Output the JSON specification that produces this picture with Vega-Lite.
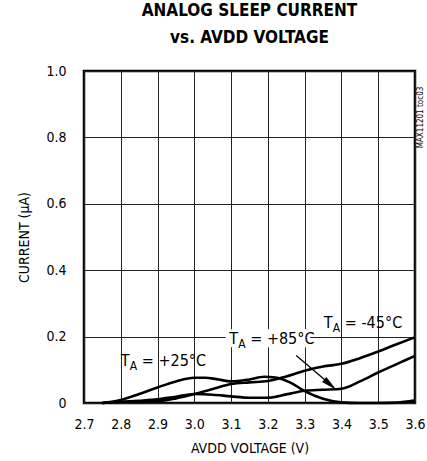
{
  "$schema": "https://vega.github.io/schema/vega-lite/v6.json",
  "width": 331,
  "height": 332,
  "autosize": "none",
  "padding": {"left": 84, "top": 71, "right": 12, "bottom": 58},
  "background": "white",
  "config": {
    "font": "DejaVu Sans Condensed, Roboto, sans-serif",
    "view": {"stroke": "black", "strokeWidth": 2.5},
    "axis": {"gridColor": "#222", "gridWidth": 1, "gridOpacity": 1, "domain": false, "ticks": false, "labelColor": "black", "titleColor": "black", "labelFont": "DejaVu Sans Condensed, Roboto, sans-serif", "titleFont": "DejaVu Sans Condensed, Roboto, sans-serif", "titleFontWeight": "normal", "labelOverlap": false}
  },
  "title": {
    "text": ["ANALOG SLEEP CURRENT", "vs. AVDD VOLTAGE"],
    "font": "DejaVu Sans Condensed, Roboto, sans-serif",
    "fontSize": 17,
    "fontWeight": "bold",
    "lineHeight": 27,
    "anchor": "middle",
    "offset": 17,
    "color": "black"
  },
  "datasets": {
    "curves": [
      {"v": 2.75, "i": 0.0, "s": "+25"},
      {"v": 2.8, "i": 0.009, "s": "+25"},
      {"v": 2.85, "i": 0.027, "s": "+25"},
      {"v": 2.9, "i": 0.047, "s": "+25"},
      {"v": 2.95, "i": 0.065, "s": "+25"},
      {"v": 3.0, "i": 0.076, "s": "+25"},
      {"v": 3.03, "i": 0.076, "s": "+25"},
      {"v": 3.06, "i": 0.072, "s": "+25"},
      {"v": 3.1, "i": 0.065, "s": "+25"},
      {"v": 3.15, "i": 0.071, "s": "+25"},
      {"v": 3.19, "i": 0.079, "s": "+25"},
      {"v": 3.22, "i": 0.077, "s": "+25"},
      {"v": 3.26, "i": 0.062, "s": "+25"},
      {"v": 3.3, "i": 0.036, "s": "+25"},
      {"v": 3.35, "i": 0.013, "s": "+25"},
      {"v": 3.4, "i": 0.002, "s": "+25"},
      {"v": 3.45, "i": 0.0, "s": "+25"},
      {"v": 3.5, "i": 0.0, "s": "+25"},
      {"v": 3.55, "i": 0.001, "s": "+25"},
      {"v": 3.6, "i": 0.008, "s": "+25"},
      {"v": 2.75, "i": 0.0, "s": "+85"},
      {"v": 2.8, "i": 0.004, "s": "+85"},
      {"v": 2.85, "i": 0.007, "s": "+85"},
      {"v": 2.9, "i": 0.011, "s": "+85"},
      {"v": 2.95, "i": 0.019, "s": "+85"},
      {"v": 3.0, "i": 0.027, "s": "+85"},
      {"v": 3.05, "i": 0.025, "s": "+85"},
      {"v": 3.1, "i": 0.02, "s": "+85"},
      {"v": 3.15, "i": 0.016, "s": "+85"},
      {"v": 3.2, "i": 0.016, "s": "+85"},
      {"v": 3.25, "i": 0.026, "s": "+85"},
      {"v": 3.3, "i": 0.037, "s": "+85"},
      {"v": 3.35, "i": 0.04, "s": "+85"},
      {"v": 3.4, "i": 0.043, "s": "+85"},
      {"v": 3.45, "i": 0.065, "s": "+85"},
      {"v": 3.5, "i": 0.092, "s": "+85"},
      {"v": 3.55, "i": 0.117, "s": "+85"},
      {"v": 3.6, "i": 0.142, "s": "+85"},
      {"v": 2.75, "i": 0.0, "s": "-45"},
      {"v": 2.8, "i": 0.003, "s": "-45"},
      {"v": 2.85, "i": 0.003, "s": "-45"},
      {"v": 2.9, "i": 0.005, "s": "-45"},
      {"v": 2.95, "i": 0.014, "s": "-45"},
      {"v": 3.0, "i": 0.027, "s": "-45"},
      {"v": 3.05, "i": 0.042, "s": "-45"},
      {"v": 3.1, "i": 0.057, "s": "-45"},
      {"v": 3.15, "i": 0.062, "s": "-45"},
      {"v": 3.2, "i": 0.066, "s": "-45"},
      {"v": 3.25, "i": 0.08, "s": "-45"},
      {"v": 3.3, "i": 0.097, "s": "-45"},
      {"v": 3.35, "i": 0.11, "s": "-45"},
      {"v": 3.4, "i": 0.118, "s": "-45"},
      {"v": 3.45, "i": 0.135, "s": "-45"},
      {"v": 3.5, "i": 0.155, "s": "-45"},
      {"v": 3.55, "i": 0.177, "s": "-45"},
      {"v": 3.6, "i": 0.198, "s": "-45"}
    ],
    "labels": [
      {"v": 2.8, "i": 0.112, "t": "T", "a": "A", "rest": "= +25°C"},
      {"v": 3.095, "i": 0.178, "t": "T", "a": "A", "rest": "= +85°C"},
      {"v": 3.352, "i": 0.226, "t": "T", "a": "A", "rest": "= -45°C"}
    ],
    "box": [
      {"v": 3.085, "v2": 3.315, "i": 0.168, "i2": 0.222}
    ],
    "arrow": [
      {"v": 3.277, "i": 0.143, "v2": 3.365, "i2": 0.06, "tip_v": 3.37, "tip_i": 0.055}
    ]
  },
  "encoding": {
    "x": {"field": "v", "type": "quantitative", "scale": {"domain": [2.7, 3.6], "nice": false, "zero": false}, "axis": {"values": [2.7, 2.8, 2.9, 3.0, 3.1, 3.2, 3.3, 3.4, 3.5, 3.6], "format": ".1f", "title": "AVDD VOLTAGE (V)", "labelFontSize": 14, "titleFontSize": 14, "labelPadding": 14, "titlePadding": 10, "labelFlush": false}},
    "y": {"field": "i", "type": "quantitative", "scale": {"domain": [0, 1], "nice": false}, "axis": {"values": [0, 0.2, 0.4, 0.6, 0.8, 1.0], "labelExpr": "datum.value == 0 ? '0' : format(datum.value, '.1f')", "title": "CURRENT (µA)", "labelFontSize": 14, "titleFontSize": 14, "labelPadding": 18, "titlePadding": 14, "labelFlush": false}}
  },
  "layer": [
    {
      "data": {"name": "box"},
      "mark": {"type": "rect", "fill": "white"},
      "encoding": {
        "x2": {"field": "v2"},
        "y2": {"field": "i2"}
      }
    },
    {
      "data": {"name": "curves"},
      "mark": {"type": "line", "color": "black", "strokeWidth": 2.6, "interpolate": "monotone"},
      "encoding": {
        "detail": {"field": "s"}
      }
    },
    {
      "data": {"name": "arrow"},
      "mark": {"type": "rule", "color": "black", "strokeWidth": 1.3},
      "encoding": {
        "x2": {"field": "v2"},
        "y2": {"field": "i2"}
      }
    },
    {
      "data": {"name": "arrow"},
      "mark": {"type": "point", "shape": "M0,1L-0.4,-1L0.4,-1Z", "filled": true, "color": "black", "opacity": 1, "size": 260, "angle": -50},
      "encoding": {
        "x": {"field": "tip_v", "type": "quantitative"},
        "y": {"field": "tip_i", "type": "quantitative"}
      }
    },
    {
      "data": {"name": "labels"},
      "mark": {"type": "text", "align": "left", "baseline": "alphabetic", "fontSize": 16, "color": "black"},
      "encoding": {
        "text": {"field": "t"}
      }
    },
    {
      "data": {"name": "labels"},
      "mark": {"type": "text", "align": "left", "baseline": "alphabetic", "fontSize": 12, "dx": 9, "dy": 4, "color": "black"},
      "encoding": {
        "text": {"field": "a"}
      }
    },
    {
      "data": {"name": "labels"},
      "mark": {"type": "text", "align": "left", "baseline": "alphabetic", "fontSize": 16, "dx": 21, "color": "black"},
      "encoding": {
        "text": {"field": "rest"}
      }
    },
    {
      "data": {"values": [{"v": 3.6, "i": 0.86, "t": "MAX11201 toc03"}]},
      "mark": {"type": "text", "angle": 270, "align": "center", "baseline": "middle", "fontSize": 8, "dx": 0, "dy": 6, "color": "black"},
      "encoding": {
        "text": {"field": "t"}
      }
    }
  ]
}
